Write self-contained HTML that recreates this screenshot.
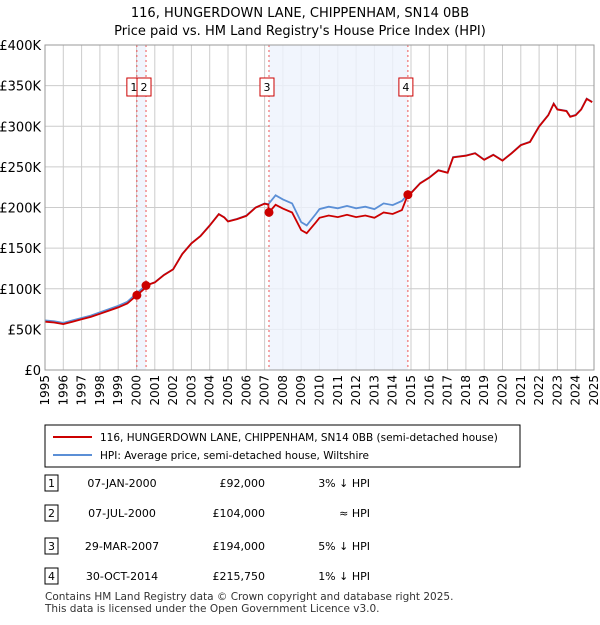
<!DOCTYPE html>
<html><head><meta charset="utf-8"><style>
body{margin:0;background:#fff;font-family:"Liberation Sans","DejaVu Sans",sans-serif;}
svg text{font-family:"DejaVu Sans","Liberation Sans",sans-serif;}
</style></head><body>
<svg id="c" width="600" height="620" xmlns="http://www.w3.org/2000/svg">
<text x="300" y="17" text-anchor="middle" font-size="13">116, HUNGERDOWN LANE, CHIPPENHAM, SN14 0BB</text>
<text x="300" y="35" text-anchor="middle" font-size="13">Price paid vs. HM Land Registry's House Price Index (HPI)</text>
<g id="grid"></g><g id="shade"></g><g id="lines"></g><g id="marks"></g><g id="axes"></g>
<rect x="45" y="425" width="475" height="42" fill="#fff" stroke="#000" stroke-width="1"/>
<line x1="53" y1="437" x2="92" y2="437" stroke="#cc0000" stroke-width="2"/>
<text x="100" y="441" font-size="10.5">116, HUNGERDOWN LANE, CHIPPENHAM, SN14 0BB (semi-detached house)</text>
<line x1="53" y1="455" x2="92" y2="455" stroke="#5b8fd6" stroke-width="2"/>
<text x="100" y="459" font-size="10.5">HPI: Average price, semi-detached house, Wiltshire</text>
<g id="table" font-size="11"></g>
<text x="45" y="600" font-size="10.5" fill="#333">Contains HM Land Registry data © Crown copyright and database right 2025.</text>
<text x="45" y="612" font-size="10.5" fill="#333">This data is licensed under the Open Government Licence v3.0.</text>
</svg>
<script>
const hpiYears=[1995,1995.5,1996,1996.5,1997,1997.5,1998,1998.5,1999,1999.5,2000,2000.5,2001,2001.5,2002,2002.5,2003,2003.5,2004,2004.5,2004.8,2005,2005.5,2006,2006.5,2007,2007.2,2007.6,2008,2008.5,2009,2009.3,2009.8,2010,2010.5,2011,2011.5,2012,2012.5,2013,2013.5,2014,2014.5,2014.83,2015,2015.5,2016,2016.5,2017,2017.3,2018,2018.5,2019,2019.5,2020,2020.5,2021,2021.5,2022,2022.5,2022.8,2023,2023.5,2023.7,2024,2024.3,2024.6,2024.9];
const hpiValues=[61,60,58,61,64,67,71,75,79,84,94,104,108,117,124,143,156,165,178,192,188,183,186,190,200,205,204,215,210,205,182,178,192,198,201,199,202,199,201,198,205,203,208,216,218,230,237,246,243,262,264,267,259,265,258,267,277,281,300,314,328,321,319,312,314,321,334,330];
const saleDates=[2000.02,2000.52,2007.24,2014.83];
const salePrices=[92,104,194,215.75];
const saleLabels=["07-JAN-2000","07-JUL-2000","29-MAR-2007","30-OCT-2014"];
const salePriceText=["£92,000","£104,000","£194,000","£215,750"];
const saleHpiText=["3% ↓ HPI","≈ HPI","5% ↓ HPI","1% ↓ HPI"];
const yTicks=[0,50,100,150,200,250,300,350,400];
const yTickLabels=["£0","£50K","£100K","£150K","£200K","£250K","£300K","£350K","£400K"];
const xTicks=[1995,1996,1997,1998,1999,2000,2001,2002,2003,2004,2005,2006,2007,2008,2009,2010,2011,2012,2013,2014,2015,2016,2017,2018,2019,2020,2021,2022,2023,2024,2025];

const NS="http://www.w3.org/2000/svg";
const L=45,R=594,T=45,B=370;
const x=v=>L+(v-1995)/30*(R-L);
const y=v=>B-v/400*(B-T);
function mk(tag,parent,attrs){const e=document.createElementNS(NS,tag);for(const k in attrs)e.setAttribute(k,attrs[k]);document.getElementById(parent).appendChild(e);return e;}
function hpiAt(t){for(let i=0;i<hpiYears.length-1;i++){if(t<=hpiYears[i+1]){const f=(t-hpiYears[i])/(hpiYears[i+1]-hpiYears[i]);return hpiValues[i]+f*(hpiValues[i+1]-hpiValues[i]);}}return hpiValues[hpiValues.length-1];}

yTicks.forEach((v,i)=>{
 const g=mk('line','grid',{x1:L,x2:R,y1:y(v),y2:y(v),stroke:'#cccccc','stroke-width':1});
 
 
 const t=mk('text','axes',{x:L-4,y:y(v)+5,'text-anchor':'end','font-size':13});
 
 
 t.textContent=yTickLabels[i];
});
xTicks.forEach(v=>{
 const g=mk('line','grid',{x1:x(v),x2:x(v),y1:T,y2:B,stroke:'#cccccc','stroke-width':1});
 
 
 const t=mk('text','axes',{x:0,y:0,'text-anchor':'end','font-size':12,transform:`translate(${x(v)+4},${B+5}) rotate(-90)`});
 
 
 t.textContent=v;
});
[[0,1],[2,3]].forEach(p=>{
 const r=mk('rect','shade',{x:x(saleDates[p[0]]),y:T,width:x(saleDates[p[1]])-x(saleDates[p[0]]),height:B-T,fill:'#eef3fc',opacity:0.8});
 
 
});
const hp=hpiYears.map((t,i)=>x(t).toFixed(1)+','+y(hpiValues[i]).toFixed(1)).join(' ');
const hl=mk('polyline','lines',{points:hp,fill:'none',stroke:'#5b8fd6','stroke-width':1.8});


const pts=[];
hpiYears.forEach((t,i)=>{
 let k=0;for(let j=0;j<saleDates.length;j++)if(t>=saleDates[j])k=j;
 pts.push([t,hpiValues[i]*salePrices[k]/hpiAt(saleDates[k])]);
});
saleDates.forEach((d,i)=>pts.push([d,salePrices[i]]));
pts.sort((a,b)=>a[0]-b[0]);
const rl=mk('polyline','lines',{points:pts.map(p=>x(p[0]).toFixed(1)+','+y(p[1]).toFixed(1)).join(' '),fill:'none',stroke:'#cc0000','stroke-width':1.8});


const boxOff=[-10,-9,-9,-9];
saleDates.forEach((d,i)=>{
 const l=mk('line','marks',{x1:x(d),x2:x(d),y1:T,y2:B,stroke:'#ee5555','stroke-width':1,'stroke-dasharray':'2,3'});
 
 
 const c=mk('circle','marks',{cx:x(d),cy:y(salePrices[i]),r:4.5,fill:'#cc0000'});
 
 
 const bx=x(d)+boxOff[i];
 const b=mk('rect','marks',{x:bx,y:78,width:14,height:18,fill:'#fff',stroke:'#cc0000'});
 
 
 const tx=mk('text','marks',{x:bx+7,y:91,'text-anchor':'middle','font-size':11});
 
 
 tx.textContent=i+1;
});
const ax=mk('rect','axes',{x:L,y:T,width:R-L,height:B-T,fill:'none',stroke:'#999','stroke-width':1});


const rowY=[483,513,546,576];
saleDates.forEach((d,i)=>{
 const b=mk('rect','table',{x:45,y:rowY[i]-8,width:13,height:16,fill:'#fff',stroke:'#000'});
 
 
 const vals=[[51.5,'middle',i+1],[122,'middle',saleLabels[i]],[265,'end',salePriceText[i]],[370,'end',saleHpiText[i]]];
 vals.forEach(v=>{
  const t=mk('text','table',{x:v[0],y:rowY[i]+4,'text-anchor':v[1]});
  
  
  t.textContent=v[2];
 });
});
</script>
</body></html>
